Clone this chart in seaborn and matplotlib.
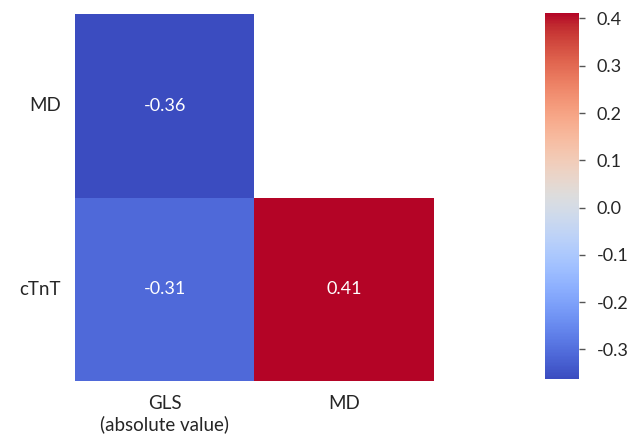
import numpy as np
import pandas as pd
import matplotlib
matplotlib.use("Agg")
import matplotlib.pyplot as plt
import seaborn as sns

# Correlation values (lower triangle only)
rows = ["MD", "cTnT"]
cols = ["GLS\n(absolute value)", "MD"]
md_row = [-0.36, np.nan]
ctnt_row = [-0.31, 0.41]

corr = pd.DataFrame([md_row, ctnt_row], index=rows, columns=cols)
mask = corr.isna()

sns.set_theme(style="white")
plt.rcParams["font.family"] = ["Lato", "DejaVu Sans"]
plt.rcParams["axes.unicode_minus"] = False

fig = plt.figure(figsize=(6.35, 4.41), dpi=100)
ax = fig.add_axes([0.118, 0.136, 0.565, 0.832])
cax = fig.add_axes([0.858, 0.141, 0.054, 0.830])

sns.heatmap(corr, mask=mask, cmap="coolwarm", annot=True, fmt=".2f",
            annot_kws={"size": 13}, ax=ax, cbar_ax=cax,
            vmin=-0.362, vmax=0.412)

ax.tick_params(axis="both", length=0, labelsize=13.5, pad=10)
ax.set_yticklabels(ax.get_yticklabels(), rotation=0)
ax.set_xticklabels(ax.get_xticklabels(), rotation=0)
ax.set_xlabel("")
ax.set_ylabel("")

cax.tick_params(length=4.5, width=1, color="#555555", labelsize=13, pad=8)
cax.set_yticks([-0.3, -0.2, -0.1, 0.0, 0.1, 0.2, 0.3, 0.4])
for s in cax.spines.values():
    s.set_visible(False)

fig.savefig("out.png", dpi=100)
